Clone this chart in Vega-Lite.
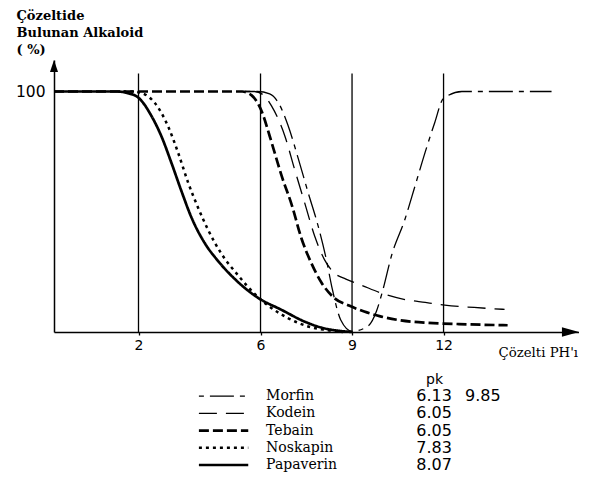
{
  "$schema": "https://vega.github.io/schema/vega-lite/v6.json",
  "background": "white",
  "padding": {"left": 15, "top": 9, "right": 0, "bottom": 0},
  "spacing": 13.6,
  "config": {"view": {"stroke": null}, "font": "DejaVu Sans"},
  "datasets": {
    "guides": [{"ph": 2}, {"ph": 6}, {"ph": 9}, {"ph": 12}],
    "curves": [
      {"series": "Morfin", "ph": 5.5, "pct": 100},
      {"series": "Morfin", "ph": 5.9, "pct": 100},
      {"series": "Morfin", "ph": 6.3, "pct": 99},
      {"series": "Morfin", "ph": 6.6, "pct": 95},
      {"series": "Morfin", "ph": 6.9, "pct": 86},
      {"series": "Morfin", "ph": 7.24, "pct": 72},
      {"series": "Morfin", "ph": 7.56, "pct": 58},
      {"series": "Morfin", "ph": 7.89, "pct": 44},
      {"series": "Morfin", "ph": 8.16, "pct": 30},
      {"series": "Morfin", "ph": 8.35, "pct": 18},
      {"series": "Morfin", "ph": 8.63, "pct": 5},
      {"series": "Morfin", "ph": 9.0, "pct": 0.3},
      {"series": "Morfin", "ph": 9.52, "pct": 2.4},
      {"series": "Morfin", "ph": 9.8, "pct": 8.6},
      {"series": "Morfin", "ph": 10.0, "pct": 17},
      {"series": "Morfin", "ph": 10.3, "pct": 32},
      {"series": "Morfin", "ph": 10.73, "pct": 46.7},
      {"series": "Morfin", "ph": 11.06, "pct": 60.5},
      {"series": "Morfin", "ph": 11.39, "pct": 74.5},
      {"series": "Morfin", "ph": 11.71, "pct": 87},
      {"series": "Morfin", "ph": 11.99, "pct": 97},
      {"series": "Morfin", "ph": 12.6, "pct": 100},
      {"series": "Morfin", "ph": 15.54, "pct": 100},
      {"series": "Kodein", "ph": 5.5, "pct": 100},
      {"series": "Kodein", "ph": 5.8, "pct": 100},
      {"series": "Kodein", "ph": 6.1, "pct": 98.5},
      {"series": "Kodein", "ph": 6.36, "pct": 94},
      {"series": "Kodein", "ph": 6.8, "pct": 81.4},
      {"series": "Kodein", "ph": 7.12, "pct": 67.5},
      {"series": "Kodein", "ph": 7.45, "pct": 53.6},
      {"series": "Kodein", "ph": 7.78, "pct": 39.7},
      {"series": "Kodein", "ph": 8.1, "pct": 30},
      {"series": "Kodein", "ph": 8.38, "pct": 25},
      {"series": "Kodein", "ph": 8.8, "pct": 22},
      {"series": "Kodein", "ph": 9.3, "pct": 19.5},
      {"series": "Kodein", "ph": 10.0, "pct": 16},
      {"series": "Kodein", "ph": 10.7, "pct": 13.6},
      {"series": "Kodein", "ph": 11.4, "pct": 12.3},
      {"series": "Kodein", "ph": 12.04, "pct": 11.2},
      {"series": "Kodein", "ph": 13.0, "pct": 10.2},
      {"series": "Kodein", "ph": 14.0, "pct": 9.4},
      {"series": "Tebain", "ph": -0.77, "pct": 100},
      {"series": "Tebain", "ph": 5.4, "pct": 100},
      {"series": "Tebain", "ph": 5.7, "pct": 98.5},
      {"series": "Tebain", "ph": 6.03, "pct": 92},
      {"series": "Tebain", "ph": 6.3, "pct": 81.5},
      {"series": "Tebain", "ph": 6.5, "pct": 73},
      {"series": "Tebain", "ph": 6.69, "pct": 65},
      {"series": "Tebain", "ph": 7.02, "pct": 53},
      {"series": "Tebain", "ph": 7.34, "pct": 39},
      {"series": "Tebain", "ph": 7.67, "pct": 28.5},
      {"series": "Tebain", "ph": 8.0, "pct": 20.5},
      {"series": "Tebain", "ph": 8.43, "pct": 14},
      {"series": "Tebain", "ph": 8.9, "pct": 11},
      {"series": "Tebain", "ph": 9.4, "pct": 8.5},
      {"series": "Tebain", "ph": 9.9, "pct": 6.6},
      {"series": "Tebain", "ph": 10.6, "pct": 4.8},
      {"series": "Tebain", "ph": 11.5, "pct": 3.8},
      {"series": "Tebain", "ph": 12.5, "pct": 3.3},
      {"series": "Tebain", "ph": 14.1, "pct": 2.8},
      {"series": "Noskapin", "ph": 1.5, "pct": 100},
      {"series": "Noskapin", "ph": 1.8, "pct": 100},
      {"series": "Noskapin", "ph": 2.1, "pct": 99.4},
      {"series": "Noskapin", "ph": 2.53, "pct": 95.3},
      {"series": "Noskapin", "ph": 2.97, "pct": 85.5},
      {"series": "Noskapin", "ph": 3.3, "pct": 74.5},
      {"series": "Noskapin", "ph": 3.63, "pct": 62},
      {"series": "Noskapin", "ph": 3.96, "pct": 51.5},
      {"series": "Noskapin", "ph": 4.28, "pct": 42.5},
      {"series": "Noskapin", "ph": 4.72, "pct": 32.5},
      {"series": "Noskapin", "ph": 5.27, "pct": 23.5},
      {"series": "Noskapin", "ph": 5.81, "pct": 15.8},
      {"series": "Noskapin", "ph": 6.3, "pct": 10.5},
      {"series": "Noskapin", "ph": 6.9, "pct": 5.8},
      {"series": "Noskapin", "ph": 7.56, "pct": 2.3},
      {"series": "Noskapin", "ph": 8.1, "pct": 0.9},
      {"series": "Noskapin", "ph": 8.7, "pct": 0},
      {"series": "Papaverin", "ph": -0.77, "pct": 100},
      {"series": "Papaverin", "ph": 1.3, "pct": 100},
      {"series": "Papaverin", "ph": 1.6, "pct": 99.5},
      {"series": "Papaverin", "ph": 2.0, "pct": 97.4},
      {"series": "Papaverin", "ph": 2.43, "pct": 89.7},
      {"series": "Papaverin", "ph": 2.75, "pct": 81.4},
      {"series": "Papaverin", "ph": 3.08, "pct": 70.3},
      {"series": "Papaverin", "ph": 3.41, "pct": 58.5},
      {"series": "Papaverin", "ph": 3.74, "pct": 47.5},
      {"series": "Papaverin", "ph": 4.17, "pct": 37},
      {"series": "Papaverin", "ph": 4.61, "pct": 29.5},
      {"series": "Papaverin", "ph": 5.16, "pct": 22},
      {"series": "Papaverin", "ph": 5.92, "pct": 14.2},
      {"series": "Papaverin", "ph": 6.69, "pct": 9.2},
      {"series": "Papaverin", "ph": 7.45, "pct": 4.3},
      {"series": "Papaverin", "ph": 8.0, "pct": 1.8},
      {"series": "Papaverin", "ph": 8.5, "pct": 0.6},
      {"series": "Papaverin", "ph": 9.0, "pct": 0}
    ],
    "legend": [
      {"series": "Morfin", "pk": "6.13", "pk2": "9.85"},
      {"series": "Kodein", "pk": "6.05"},
      {"series": "Tebain", "pk": "6.05"},
      {"series": "Noskapin", "pk": "7.83"},
      {"series": "Papaverin", "pk": "8.07"}
    ]
  },
  "vconcat": [
    {
      "width": 525,
      "height": 272,
      "layer": [
        {
          "data": {"name": "guides"},
          "mark": {"type": "rule", "color": "black", "strokeWidth": 1.3},
          "encoding": {
            "x": {
              "field": "ph", "type": "quantitative",
              "scale": {"domain": [-0.77, 16.44], "nice": false, "zero": false},
              "axis": {
                "values": [2, 6, 9, 12], "format": "d", "grid": false,
                "ticks": true, "tickSize": 3, "tickColor": "black", "tickWidth": 1.3,
                "labelFont": "DejaVu Sans", "labelFontSize": 14, "labelColor": "black", "labelPadding": 3, "labelFlush": false,
                "domainColor": "black", "domainWidth": 1.5,
                "title": "Çözelti PH'ı", "titleX": 444, "titleY": 20, "titleAlign": "left", "titleBaseline": "middle", "titleAngle": 0,
                "titleFont": "DejaVu Serif", "titleFontSize": 13.3, "titleFontWeight": "normal", "titleColor": "black"
              }
            },
            "y": {
              "datum": 0, "type": "quantitative",
              "scale": {"domain": [0, 113.1], "nice": false},
              "axis": {
                "values": [100], "grid": false, "ticks": false,
                "labelFont": "DejaVu Sans", "labelFontSize": 15.5, "labelColor": "black", "labelPadding": 9,
                "domainColor": "black", "domainWidth": 1.5,
                "title": ["Çözeltide", "Bulunan Alkaloid", "( %)"],
                "titleAngle": 0, "titleAlign": "left", "titleBaseline": "top", "titleX": -38, "titleY": -51,
                "titleFont": "DejaVu Serif", "titleFontSize": 13, "titleFontWeight": "bold", "titleLineHeight": 17, "titleColor": "black"
              }
            },
            "y2": {"datum": 107.5}
          }
        },
        {
          "data": {"name": "curves"},
          "mark": {"type": "line", "interpolate": "monotone", "color": "black"},
          "encoding": {
            "x": {"field": "ph", "type": "quantitative"},
            "y": {"field": "pct", "type": "quantitative"},
            "strokeDash": {
              "field": "series", "type": "nominal", "legend": null,
              "scale": {
                "domain": ["Morfin", "Kodein", "Tebain", "Noskapin", "Papaverin"],
                "range": [[5, 6, 24, 6], [18, 9], [10, 4], [3, 4], [1, 0]]
              }
            },
            "strokeWidth": {
              "condition": [
                {"test": "datum.series === 'Tebain' || datum.series === 'Papaverin'", "value": 2.7},
                {"test": "datum.series === 'Noskapin'", "value": 2.5}
              ],
              "value": 1.3
            }
          }
        },
        {
          "data": {"values": [{}]},
          "mark": {"type": "point", "shape": "M0,-1L0.67,1L-0.67,1Z", "filled": true, "color": "black", "size": 144, "opacity": 1},
          "encoding": {"x": {"datum": -0.77, "type": "quantitative"}, "y": {"datum": 110.6, "type": "quantitative"}}
        },
        {
          "data": {"values": [{}]},
          "mark": {"type": "point", "shape": "M1,0L-1,-0.55L-1,0.55Z", "filled": true, "color": "black", "size": 289, "opacity": 1},
          "encoding": {"x": {"datum": 16.16, "type": "quantitative"}, "y": {"datum": 0, "type": "quantitative"}}
        }
      ]
    },
    {
      "width": 525,
      "height": 86,
      "title": {"text": "pk", "anchor": "start", "frame": "group", "dx": 372, "offset": -10.6, "baseline": "alphabetic", "font": "DejaVu Sans", "fontSize": 14, "fontWeight": "normal", "color": "black"},
      "data": {"name": "legend"},
      "layer": [
        {
          "mark": {"type": "rule", "color": "black"},
          "encoding": {
            "x": {"datum": 27.6, "type": "quantitative", "scale": {"domain": [0, 100], "nice": false}, "axis": null},
            "x2": {"datum": 37},
            "y": {"field": "series", "type": "nominal", "scale": {"type": "point", "domain": ["Morfin", "Kodein", "Tebain", "Noskapin", "Papaverin"], "padding": 0.5}, "axis": null},
            "strokeDash": {
              "field": "series", "type": "nominal", "legend": null,
              "scale": {
                "domain": ["Morfin", "Kodein", "Tebain", "Noskapin", "Papaverin"],
                "range": [[5, 6, 24, 6], [18, 9], [10, 4], [3, 4], [1, 0]]
              }
            },
            "strokeWidth": {
              "condition": [
                {"test": "datum.series === 'Tebain' || datum.series === 'Papaverin'", "value": 2.7},
                {"test": "datum.series === 'Noskapin'", "value": 2.5}
              ],
              "value": 1.3
            }
          }
        },
        {
          "mark": {"type": "text", "align": "left", "baseline": "middle", "font": "DejaVu Serif", "fontSize": 14, "color": "black"},
          "encoding": {
            "x": {"datum": 40.4, "type": "quantitative"},
            "y": {"field": "series", "type": "nominal"},
            "text": {"field": "series"}
          }
        },
        {
          "mark": {"type": "text", "align": "left", "baseline": "middle", "font": "DejaVu Sans", "fontSize": 16, "color": "black"},
          "encoding": {
            "x": {"datum": 69, "type": "quantitative"},
            "y": {"field": "series", "type": "nominal"},
            "text": {"field": "pk"}
          }
        },
        {
          "transform": [{"filter": "datum.pk2"}],
          "mark": {"type": "text", "align": "left", "baseline": "middle", "font": "DejaVu Sans", "fontSize": 16, "color": "black"},
          "encoding": {
            "x": {"datum": 78.3, "type": "quantitative"},
            "y": {"field": "series", "type": "nominal"},
            "text": {"field": "pk2"}
          }
        }
      ]
    }
  ]
}
